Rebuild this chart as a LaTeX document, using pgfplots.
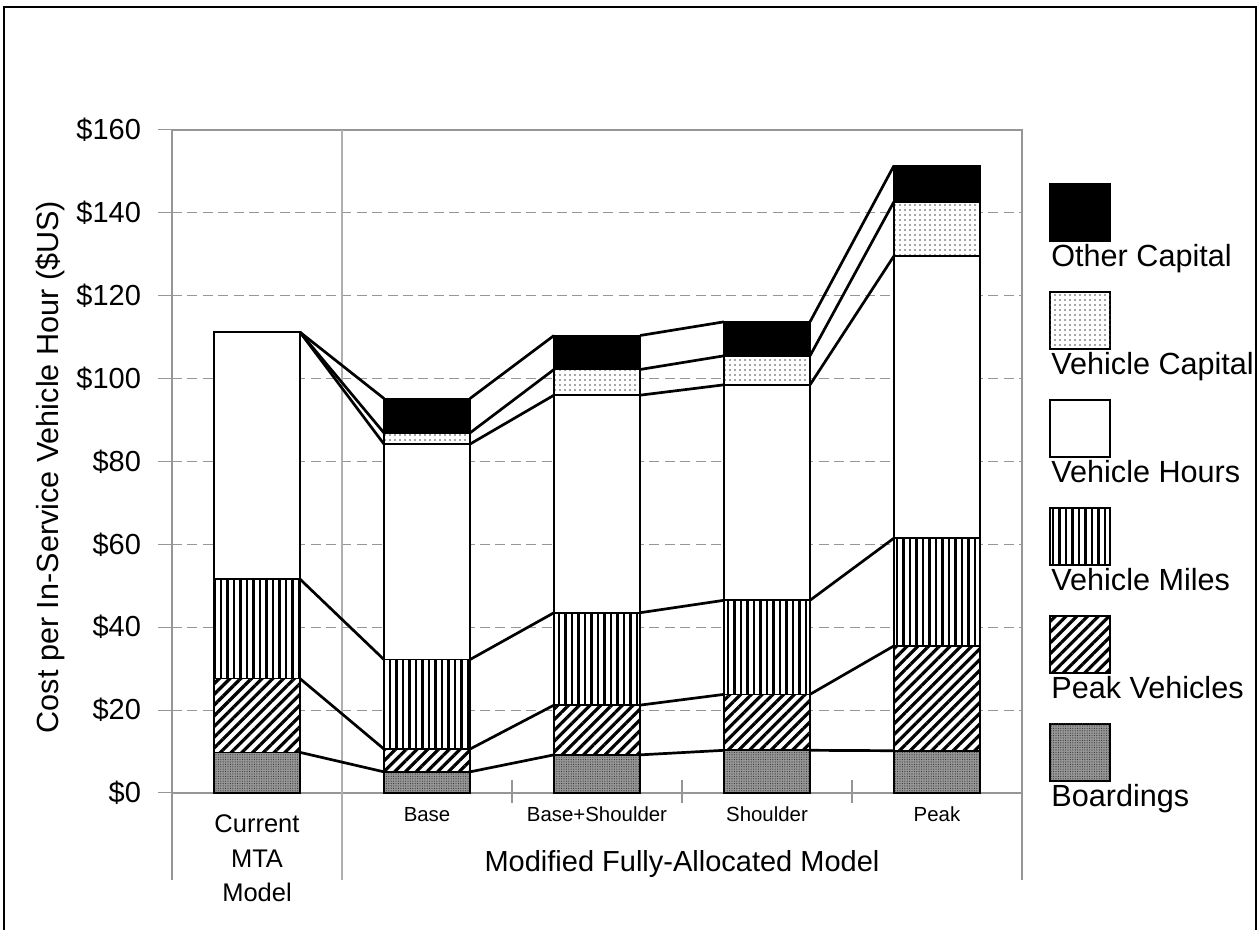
\documentclass[border=0pt]{standalone}
\usepackage{fontspec}
\setmainfont{Liberation Sans}
\usepackage{pgfplots}
\pgfplotsset{compat=1.18}
\usepackage{pgfplotstable}
\usetikzlibrary{patterns.meta}

\definecolor{axisgray}{RGB}{150,150,150}
\definecolor{sepgray}{RGB}{175,175,175}
\definecolor{boardgray}{RGB}{150,150,150}

\tikzset{
  boardings/.style={fill=boardgray, postaction={pattern={Dots[distance=1.2pt,radius=0.28pt]}, pattern color=black!80}},
  peakveh/.style={fill=white, postaction={pattern={Lines[angle=45,distance=3.8pt,line width=1.6pt]}, pattern color=black}},
  vehmiles/.style={fill=white, postaction={pattern={Lines[angle=90,distance=3.25pt,line width=1.4pt]}, pattern color=black}},
  vehhours/.style={fill=white},
  vehcap/.style={fill=white, postaction={pattern={Dots[distance=2.5pt,radius=0.42pt]}, pattern color=black!70}},
  othercap/.style={fill=black},
  seg/.style={draw=black, line width=0.85pt},
  link/.style={draw=black, line width=1.35pt},
}

% segment heights per bar ($ per in-service vehicle hour)
\pgfplotstableread{
x   B    PV   VM   VH   VC   OC
0   9.8  17.8 24.0 59.6 0.0  0.0
1   5.1  5.5  21.6 52.0 2.7  8.3
2   9.2  12.0 22.3 52.5 6.2  8.2
3   10.3 13.5 22.7 52.0 7.0  8.2
4   10.2 25.3 26.0 68.1 13.1 8.7
}\costs

\newcommand\legfont{\fontsize{15.3}{18}\selectfont}

\begin{document}
\begin{tikzpicture}
\useasboundingbox (0pt,0pt) rectangle (630pt,465pt);

\begin{axis}[
  at={(86pt,68.5pt)}, anchor=south west,
  scale only axis, width=425pt, height=331.5pt,
  xmin=-0.5, xmax=4.5, ymin=0, ymax=160,
  ybar stacked, bar width=0.506,
  clip=false,
  axis line style={draw=axisgray, line width=1.4pt},
  ytick={0,20,...,160},
  yticklabel={\$\pgfmathprintnumber[assume math mode=true]{\tick}},
  ymajorgrids,
  major grid style={draw=axisgray, line width=0.6pt, dash pattern=on 5pt off 2.7pt},
  xtick={1,2,3,4},
  xticklabels={Base,Base+Shoulder,Shoulder,Peak},
  xtick style={draw=none},
  ytick style={draw=axisgray, line width=0.5pt},
  tick align=outside, tick pos=left, major tick length=7pt,
  tick label style={font=\fontsize{14.5}{17}\selectfont},
  y tick label style={xshift=-5pt},
  x tick label style={font=\fontsize{10.2}{12}\selectfont, anchor=base, yshift=-7.3pt},
  ylabel={Cost per In-Service Vehicle Hour (\$US)},
  every axis y label/.style={at={(axis description cs:-0.1335,0.4917)}, rotate=90, anchor=base, font=\legfont},
]
\addplot[seg, boardings] table[x=x, y=B] {\costs};
\addplot[seg, peakveh]   table[x=x, y=PV] {\costs};
\addplot[seg, vehmiles]  table[x=x, y=VM] {\costs};
\addplot[seg, vehhours]  table[x=x, y=VH] {\costs};
\addplot[seg, vehcap]    table[x=x, y=VC] {\costs};
\addplot[seg, othercap]  table[x=x, y=OC] {\costs};

\draw[sepgray, line width=1.4pt] (axis cs:0.5,160) -- (axis cs:0.5,0) -- ++(0pt,-43.5pt);
\draw[axisgray, line width=1.4pt] (axis cs:-0.5,0) -- ++(0pt,-43.5pt);
\draw[axisgray, line width=1.4pt] (axis cs:4.5,0) -- ++(0pt,-43.5pt);
\pgfplotsinvokeforeach{1.5,2.5,3.5}{
  \draw[axisgray, line width=1.2pt] (axis cs:#1,0) ++(0pt,6.5pt) -- ++(0pt,-11.5pt);
}
\node[anchor=base, font=\fontsize{12.75}{15}\selectfont] at ([yshift=-20pt]axis cs:0,0) {Current};
\node[anchor=base, font=\fontsize{12.75}{15}\selectfont] at ([yshift=-37.5pt]axis cs:0,0) {MTA};
\node[anchor=base, font=\fontsize{12.75}{15}\selectfont] at ([yshift=-54.5pt]axis cs:0,0) {Model};
\node[anchor=base, font=\fontsize{14.5}{17}\selectfont] at ([yshift=-39.5pt]axis cs:2.5,0) {Modified Fully-Allocated Model};
\end{axis}

% series lines joining the segment tops of neighbouring bars
\begin{axis}[
  at={(86pt,68.5pt)}, anchor=south west,
  scale only axis, width=425pt, height=331.5pt,
  xmin=-0.5, xmax=4.5, ymin=0, ymax=160,
  hide axis, clip=false, unbounded coords=jump,
]
\addplot[link, no markers] coordinates {(0.253,9.8) (0.747,5.1) (nan,nan) (1.253,5.1) (1.747,9.2) (nan,nan) (2.253,9.2) (2.747,10.3) (nan,nan) (3.253,10.3) (3.747,10.2)};
\addplot[link, no markers] coordinates {(0.253,27.6) (0.747,10.6) (nan,nan) (1.253,10.6) (1.747,21.2) (nan,nan) (2.253,21.2) (2.747,23.8) (nan,nan) (3.253,23.8) (3.747,35.5)};
\addplot[link, no markers] coordinates {(0.253,51.6) (0.747,32.2) (nan,nan) (1.253,32.2) (1.747,43.5) (nan,nan) (2.253,43.5) (2.747,46.5) (nan,nan) (3.253,46.5) (3.747,61.5)};
\addplot[link, no markers] coordinates {(0.253,111.2) (0.747,84.2) (nan,nan) (1.253,84.2) (1.747,96.0) (nan,nan) (2.253,96.0) (2.747,98.5) (nan,nan) (3.253,98.5) (3.747,129.6)};
\addplot[link, no markers] coordinates {(0.253,111.2) (0.747,86.9) (nan,nan) (1.253,86.9) (1.747,102.2) (nan,nan) (2.253,102.2) (2.747,105.5) (nan,nan) (3.253,105.5) (3.747,142.7)};
\addplot[link, no markers] coordinates {(0.253,111.2) (0.747,95.2) (nan,nan) (1.253,95.2) (1.747,110.4) (nan,nan) (2.253,110.4) (2.747,113.7) (nan,nan) (3.253,113.7) (3.747,151.4)};
\end{axis}

% legend
\draw[othercap, draw=black, line width=0.6pt] (525pt,373pt) rectangle (555pt,344.5pt);
\node[anchor=base west, inner sep=0pt, font=\legfont] at (525.5pt,331.5pt) {Other Capital};
\draw[vehcap, draw=black, line width=0.6pt] (525pt,319pt) rectangle (555pt,290.5pt);
\node[anchor=base west, inner sep=0pt, font=\legfont] at (525.5pt,277.5pt) {Vehicle Capital};
\draw[vehhours, draw=black, line width=0.6pt] (525pt,265pt) rectangle (555pt,236.5pt);
\node[anchor=base west, inner sep=0pt, font=\legfont] at (525.5pt,223.5pt) {Vehicle Hours};
\draw[vehmiles, draw=black, line width=0.6pt] (525pt,211pt) rectangle (555pt,182.5pt);
\node[anchor=base west, inner sep=0pt, font=\legfont] at (525.5pt,169.5pt) {Vehicle Miles};
\draw[peakveh, draw=black, line width=0.6pt] (525pt,157pt) rectangle (555pt,128.5pt);
\node[anchor=base west, inner sep=0pt, font=\legfont] at (525.5pt,115.5pt) {Peak Vehicles};
\draw[boardings, draw=black, line width=0.6pt] (525pt,103pt) rectangle (555pt,74.5pt);
\node[anchor=base west, inner sep=0pt, font=\legfont] at (525.5pt,61.5pt) {Boardings};

% outer frame
\draw[black, line width=1.2pt] (2pt,0pt) -- (2pt,461.5pt) -- (628pt,461.5pt) -- (628pt,0pt);
\end{tikzpicture}
\end{document}
